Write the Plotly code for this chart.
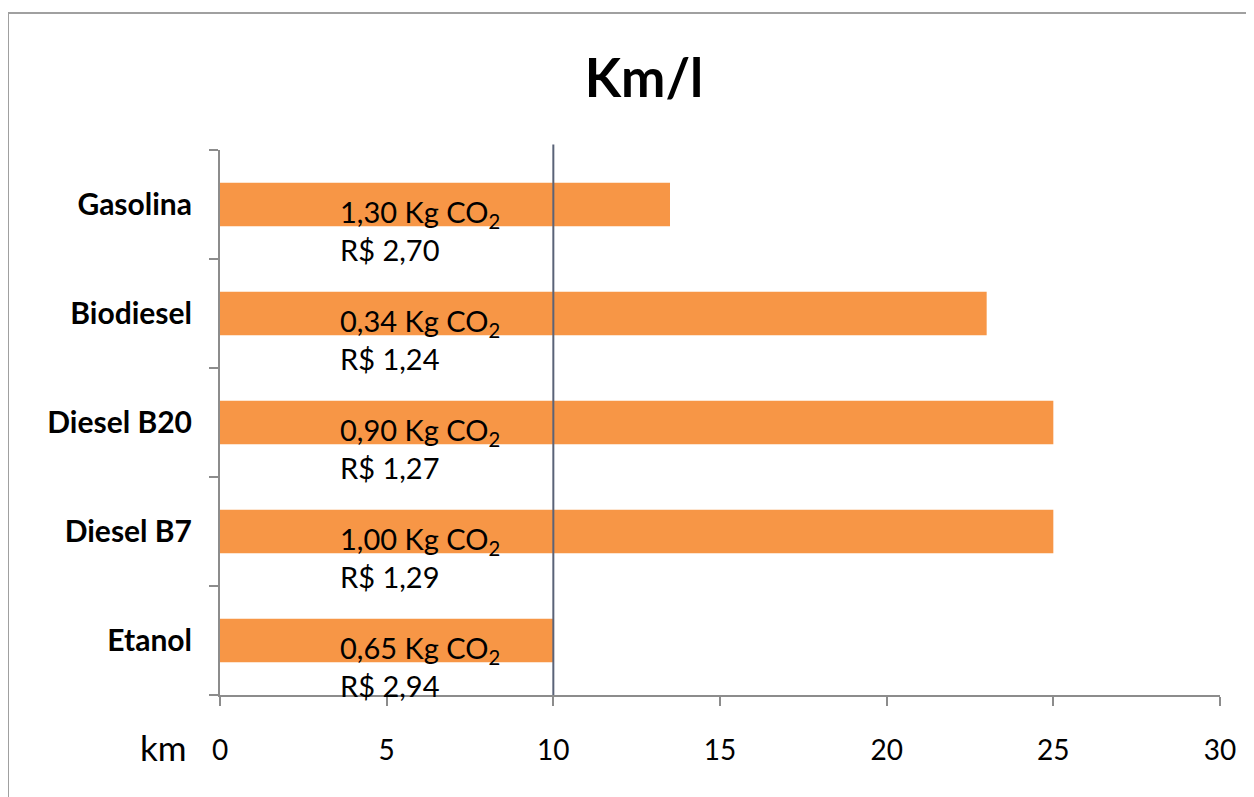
import plotly.graph_objects as go

# Data (bottom to top on the chart)
categories = ["Etanol", "Diesel B7", "Diesel B20", "Biodiesel", "Gasolina"]
km_per_litre = [10, 25, 25, 23, 13.5]
co2_labels = ["0,65 Kg CO<sub>2</sub>", "1,00 Kg CO<sub>2</sub>", "0,90 Kg CO<sub>2</sub>",
              "0,34 Kg CO<sub>2</sub>", "1,30 Kg CO<sub>2</sub>"]
price_labels = ["R$ 2,94", "R$ 1,29", "R$ 1,27", "R$ 1,24", "R$ 2,70"]
x_ticks = [0, 5, 10, 15, 20, 25, 30]
reference_km = 10

FONT = "Lato"
ORANGE = "#F79646"
GRAY = "#8C8C8C"

# page body has an 8px margin; plot area should land at x 220..1220, y 150..695
L, T = 212, 142
PW, PH = 1000, 545
W, H = 1254, 797

fig = go.Figure()
fig.add_trace(go.Bar(
    y=categories, x=km_per_litre, orientation="h",
    marker=dict(color=ORANGE, line=dict(width=0)),
    width=0.4, showlegend=False, hoverinfo="x+y",
))

annotations = []
for i, (c, p) in enumerate(zip(co2_labels, price_labels)):
    annotations.append(dict(x=3.55, y=i - 0.08, xref="x", yref="y", text=c,
                            showarrow=False, xanchor="left", yanchor="middle",
                            font=dict(family=FONT, size=29, color="#000000")))
    annotations.append(dict(x=3.55, y=i - 0.41, xref="x", yref="y", text=p,
                            showarrow=False, xanchor="left", yanchor="middle",
                            font=dict(family=FONT, size=29, color="#000000")))

annotations.append(dict(x=(163 - 220) / PW, y=(695 - 747) / PH, xref="paper", yref="paper",
                        text="km", showarrow=False, xanchor="center", yanchor="middle",
                        font=dict(family=FONT, size=35, color="#000000")))

fig.update_layout(
    width=W, height=H,
    margin=dict(l=L, r=W - L - PW, t=T, b=H - T - PH, autoexpand=False),
    paper_bgcolor="white", plot_bgcolor="white",
    title=dict(text="<b>Km/l</b>", x=(644 - 8) / W, xref="container", xanchor="center",
               y=1 - (78 - 8) / H, yref="container", yanchor="middle",
               font=dict(family=FONT, size=53, color="#000000")),
    xaxis=dict(range=[0, 30], tickvals=x_ticks, showgrid=False, zeroline=False,
               showline=True, linecolor=GRAY, linewidth=2,
               ticks="outside", ticklen=9, tickcolor=GRAY, tickwidth=2,
               ticklabelstandoff=20, automargin=False,
               tickfont=dict(family=FONT, size=28, color="#000000")),
    yaxis=dict(type="category", categoryorder="array", categoryarray=categories,
               range=[-0.5, 4.5], tickson="boundaries", showgrid=False, zeroline=False,
               showline=True, linecolor=GRAY, linewidth=2,
               ticks="outside", ticklen=9, tickcolor=GRAY, tickwidth=2,
               ticklabelstandoff=20, automargin=False,
               tickfont=dict(family=FONT, size=30, color="#000000", weight="bold")),
    annotations=annotations,
    shapes=[
        dict(type="line", xref="x", yref="paper", x0=reference_km, x1=reference_km,
             y0=0, y1=1.01, line=dict(color="#5A6378", width=2)),
        dict(type="rect", xref="paper", yref="paper", x0=-0.212, x1=1.2,
             y0=-0.5, y1=(695 - 13) / PH, line=dict(color="#A0A0A0", width=2),
             layer="below"),
    ],
)

fig.write_html("out.html")
